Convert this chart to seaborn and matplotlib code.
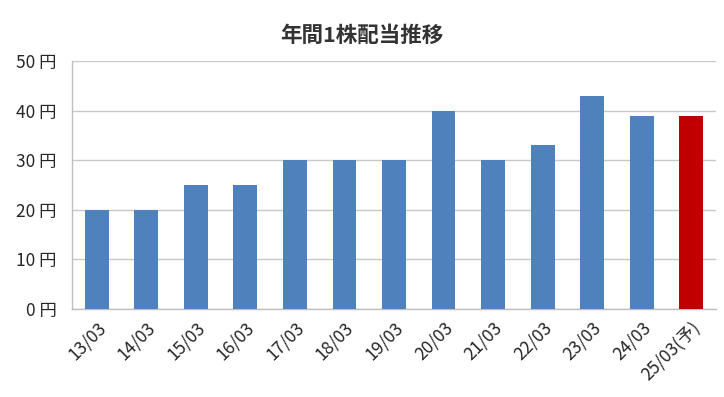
import matplotlib
matplotlib.use("Agg")
import matplotlib.pyplot as plt
import numpy as np
import pandas as pd
import seaborn as sns

periods = ["13/03", "14/03", "15/03", "16/03", "17/03", "18/03", "19/03",
           "20/03", "21/03", "22/03", "23/03", "24/03", "25/03(予)"]
dividends = [20, 20, 25, 25, 30, 30, 30, 40, 30, 33, 43, 39, 39]
kind = ["実績"] * 12 + ["予想"]
y_ticks = [0, 10, 20, 30, 40, 50]

sns.set_style("white")
plt.rcParams["font.family"] = ["Noto Sans CJK JP", "DejaVu Sans"]

df = pd.DataFrame({"period": periods, "dividend": dividends, "kind": kind})

fig = plt.figure(figsize=(7.24, 3.97), dpi=100)
ax = fig.add_axes([0.0994, 0.2217, 0.8896, 0.6246])

sns.barplot(data=df, x="period", y="dividend", hue="kind",
            palette={"実績": "#4F81BD", "予想": "#C00000"},
            dodge=False, width=0.48, saturation=1, linewidth=0,
            legend=False, ax=ax, zorder=3)

ax.set_xlim(-0.5, len(periods) - 0.5)
ax.set_ylim(0, 50)
ax.set_yticks(y_ticks)
ax.set_yticklabels([f"{v} 円" for v in y_ticks], fontsize=12.5, color="#262626")
ax.yaxis.grid(True, color="#c8c8c8", linewidth=1, zorder=0)
ax.set_axisbelow(True)

ax.set_xticks(range(len(periods)))
ax.set_xticklabels(periods, rotation=45, ha="right", rotation_mode="anchor",
                   fontsize=12.5, color="#262626")
ax.set_xticks(np.arange(-0.5, len(periods), 1), minor=True)
ax.tick_params(axis="x", which="major", length=0, pad=7)
ax.tick_params(axis="x", which="minor", direction="in", length=10,
               color="#bfbfbf", width=1)
ax.tick_params(axis="y", direction="out", length=7, color="#bfbfbf", width=1, pad=4)

for side in ["top", "right"]:
    ax.spines[side].set_visible(False)
for side in ["left", "bottom"]:
    ax.spines[side].set_color("#bfbfbf")
    ax.spines[side].set_linewidth(1)

ax.set_xlabel("")
ax.set_ylabel("")
fig.text(0.5, 0.912, "年間1株配当推移", ha="center", va="center",
         fontsize=15.5, fontweight="bold", color="#333333")

fig.savefig("out.png", dpi=100)
